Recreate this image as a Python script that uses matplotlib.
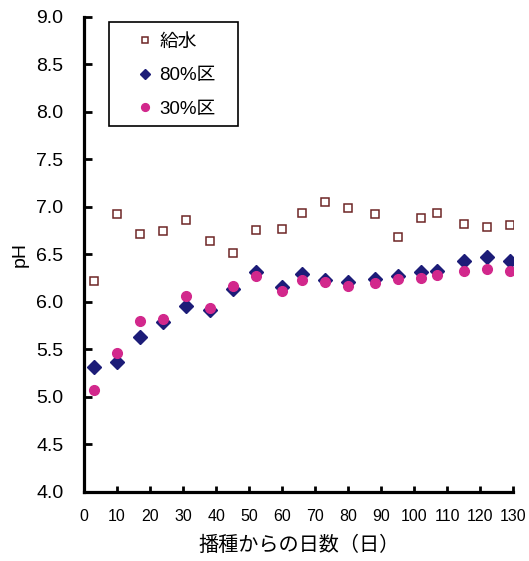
import numpy as np
import matplotlib.pyplot as plt
from matplotlib.patches import Rectangle

plt.rcParams['font.family'] = ['Liberation Sans', 'Noto Sans CJK JP', 'DejaVu Sans']

days = [3, 10, 17, 24, 31, 38, 45, 52, 60, 66, 73, 80, 88, 95, 102, 107, 115, 122, 129]
water = [6.22, 6.92, 6.72, 6.75, 6.86, 6.64, 6.52, 6.76, 6.77, 6.94, 7.05, 6.99, 6.92,
         6.68, 6.88, 6.94, 6.82, 6.79, 6.81]
ku80 = [5.32, 5.37, 5.63, 5.79, 5.96, 5.92, 6.14, 6.32, 6.16, 6.29, 6.23, 6.21, 6.24,
        6.27, 6.32, 6.33, 6.43, 6.47, 6.43]
ku30 = [5.07, 5.46, 5.80, 5.82, 6.06, 5.94, 6.17, 6.27, 6.11, 6.23, 6.21, 6.17, 6.20,
        6.24, 6.25, 6.28, 6.33, 6.35, 6.33]
labels = ["給水", "80%区", "30%区"]

fig = plt.figure(figsize=(5.29, 5.61), dpi=100)
ax = fig.add_axes([0.159, 0.123, 0.811, 0.847])

ax.plot(days, water, "s", ms=5.5, mfc="white", mec="#6e2626", mew=1.1, label=labels[0])
ax.plot(days, ku80, "D", ms=7, color="#1c1c78", label=labels[1])
ax.plot(days, ku30, "o", ms=7, color="#d2288c", label=labels[2])

ax.set_xlim(0, 130)
ax.set_ylim(4.0, 9.0)
ax.set_xticks(np.arange(0, 131, 10))
ax.set_yticks(np.arange(4.0, 9.01, 0.5))
ax.set_yticklabels([f"{v:.1f}" for v in np.arange(4.0, 9.01, 0.5)])

for s in ["top", "right"]:
    ax.spines[s].set_visible(False)
for s in ["left", "bottom"]:
    ax.spines[s].set_linewidth(2.3)

ax.tick_params(axis="y", direction="in", length=6, width=2, labelsize=14, pad=15)
ax.tick_params(axis="x", direction="in", length=4, width=2, labelsize=11.5, pad=12)

ax.set_xlabel("播種からの日数（日）", fontsize=14.5, labelpad=9)
ax.set_ylabel("pH", fontsize=14, labelpad=5)

# legend box
ax.add_patch(Rectangle((0.058, 0.771), 0.301, 0.218, transform=ax.transAxes,
                       fill=False, edgecolor="black", lw=1.2, clip_on=False))
ax.legend(loc="upper left", bbox_to_anchor=(0.1235, 0.964), fontsize=13.5,
          frameon=False, borderpad=0, borderaxespad=0, handletextpad=0.37,
          handlelength=0.8, labelspacing=0.86, markerscale=0.8)

fig.savefig("out.png", dpi=100)
